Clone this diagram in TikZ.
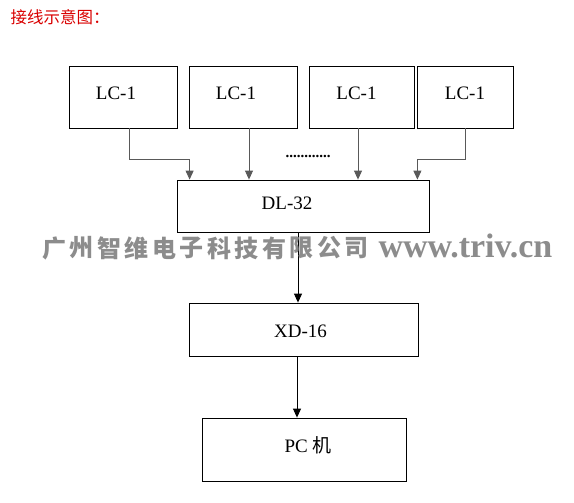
\documentclass[tikz,border=0pt]{standalone}
\usepackage{fontspec}
\setmainfont{Liberation Serif}
\newfontfamily\cjk{Noto Sans CJK SC}
\usetikzlibrary{arrows.meta}
\begin{document}
\begin{tikzpicture}
			[
				x=1pt,
				y=-1pt,
				box/.style={draw=black, line width=0.8pt, inner sep=0pt},
				boxtext/.style={font=\fontsize{19}{19}\selectfont},
				feed/.style={draw=black!65, line width=0.9pt, -{Triangle[length=9pt,width=8pt]}},
				link/.style={draw=black, line width=0.9pt, -{Triangle[length=9pt,width=8pt]}}
			]
			\useasboundingbox (0,0) rectangle (574,503);
			% Title
			\node[anchor=west, text=red!85!black, font=\cjk\fontsize{16.5}{16.5}\selectfont] (title) at (7,17) {接线示意图：};
			% LC-1 units
			\foreach \n/\x/\w/\dx in {1/123/108/-7, 2/243/108/-7, 3/361.5/105/-5, 4/465/96/0} {
					\node[box, minimum width=\w, minimum height=62,
						label={[boxtext, xshift=\dx, yshift=4]center:LC-1}] (lc\n) at (\x,97) {};
				}
			\node[font=\fontsize{15}{15}\selectfont\bfseries] (dots) at (308,156) {............};
			% Main chain
			\node[box, minimum width=252, minimum height=52,
				label={[boxtext, xshift=-16, yshift=3]center:DL-32}] (dl) at (303,206) {};
			\node[box, minimum width=229, minimum height=53,
				label={[boxtext, xshift=-3, yshift=-2]center:XD-16}] (xd) at (303.5,329.5) {};
			\node[box, minimum width=204, minimum height=63,
				label={[boxtext, xshift=4, yshift=4]center:PC {\cjk 机}}] (pc) at (304,449.5) {};
			% Feeds
			\draw[feed] ([xshift=6]lc1.south) -- ++(0,31) -| ([xshift=13]dl.north west);
			\draw[feed] ([xshift=6]lc2.south) -- ([xshift=6]lc2.south |- dl.north);
			\draw[feed] ([xshift=-3.5]lc3.south) -- ([xshift=-3.5]lc3.south |- dl.north);
			\draw[feed] (lc4.south) -- ++(0,31) -| ([xshift=-12]dl.north east);
			\draw[link] ([xshift=-5]dl.south) -- ([xshift=-5]dl.south |- xd.north);
			\draw[link] ([xshift=-6.5]xd.south) -- ([xshift=-6.5]xd.south |- pc.north);
			% Watermark
			\foreach \c [count=\i] in {广,州,智,维,电,子,科,技,有,限,公,司} {
					\node[text=black!45, font=\cjk\bfseries\fontsize{24}{24}\selectfont] (wm\i) at (54+27.5*\i-27.5,248) {\c};
				}
			\node[anchor=west, text=black!45, font=\bfseries\fontsize{34}{34}\selectfont] (url) at (375,246) {www.triv.cn};
		\end{tikzpicture}
\end{document}
